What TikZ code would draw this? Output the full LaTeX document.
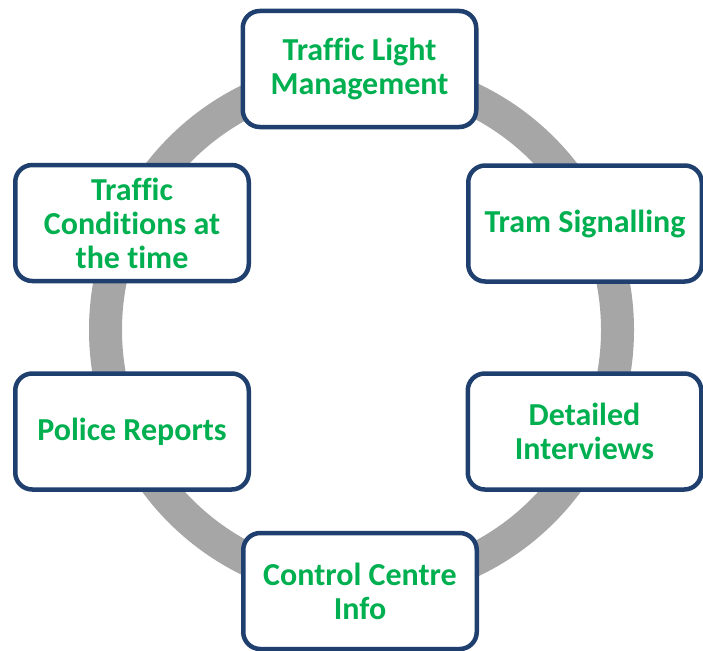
\documentclass[tikz,border=0pt]{standalone}
\usepackage{fontspec}
\setmainfont[Ligatures=CommonOff]{Carlito}
\usepackage{tikz}
\usetikzlibrary{calc}

\definecolor{ringgray}{HTML}{A6A6A6}
\definecolor{boxblue}{HTML}{1F3F6E}
\definecolor{textgreen}{HTML}{00B050}

\begin{document}
\begin{tikzpicture}[x=1pt,y=-1pt,
    topic/.style={draw=boxblue, line width=4.5pt, rounded corners=17pt, fill=white,
        minimum width=233.5pt, minimum height=116pt, inner sep=0pt, align=center,
        text=textgreen, font=\fontsize{32}{34}\selectfont\bfseries}]
    \useasboundingbox (0,0) rectangle (703,650);
    \coordinate (hub) at (361.5,330);
    \draw [ringgray, line width=33pt] (hub) circle [radius=256pt];
    \node[topic] (light) at (359.5,69) {Traffic Light\\Management}; %top
    \node[topic] (tram) at (585,223.5) {Tram Signalling};
    \node[topic] (interviews) at (584.5,431.5) {Detailed\\Interviews};
    \node[topic] (control) at (360,591) {Control Centre\\Info}; %bottom
    \node[topic] (police) at (132,431.5) {Police Reports};
    \node[topic] (conditions) at (132,223) {Traffic\\Conditions at\\the time};
\end{tikzpicture}
\end{document}
